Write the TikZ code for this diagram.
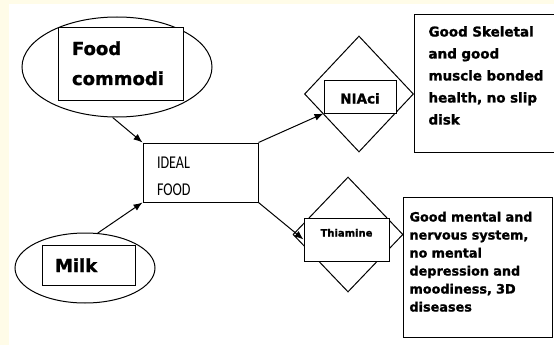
\documentclass[tikz,border=0pt]{standalone}
\usepackage{fontspec}
\setmainfont{DejaVu Sans}[BoldFeatures={FakeBold=1.3}]
\newfontfamily\idealfont[FakeStretch=0.78]{Carlito}
\usetikzlibrary{shapes,arrows,arrows.meta}
\definecolor{creambg}{RGB}{255,252,232}

\begin{document}
\begin{tikzpicture}[x=1pt,y=-1pt,line width=1pt,
oval/.style={ellipse,draw,inner sep=0pt},
rhomb/.style={diamond,draw,inner sep=0pt},
tagbox/.style={rectangle,draw,fill=white,inner ysep=0pt,align=left,font=\bfseries},
note/.style={rectangle,draw,anchor=north west,inner ysep=0pt,align=left},
arr/.style={-{Latex[length=9pt,width=7pt]}}
]
\useasboundingbox (0,0) rectangle (554,345);
\fill[creambg] (0,0) rectangle (554,345);
\fill[white] (9,4) rectangle (554,345);

% inputs
\node[oval,minimum width=190pt,minimum height=100pt] (food) at (117,67) {};
\node[tagbox,inner xsep=14pt,text width=97pt,text height=27pt,text depth=45pt,
  font=\bfseries\fontsize{18}{30}\selectfont] (foodbox) at (120.5,64) {Food\\commodi};
\node[oval,minimum width=140pt,minimum height=70pt] (milk) at (85,268) {};
\node[tagbox,inner xsep=13pt,text width=67pt,text height=27pt,text depth=13pt,
  font=\bfseries\fontsize{18}{22}\selectfont] (milkbox) at (88.5,265) {Milk};

\node[tagbox,inner xsep=14pt,text width=87pt,text height=25pt,text depth=34pt,
  font=\idealfont\fontsize{18}{27}\selectfont] (ideal) at (200.5,172.5) {IDEAL\\FOOD};

% nutrients
\node[rhomb,minimum width=109pt,minimum height=116pt] (diaN) at (359,94) {};
\node[tagbox,align=center,inner xsep=0pt,text width=72pt,text height=23.5pt,text depth=9.5pt,
  font=\bfseries\fontsize{13.5}{16}\selectfont] (niaci) at (360,96.5) {NIAci};
\node[rhomb,minimum width=110pt,minimum height=115pt] (diaT) at (348,234.5) {};
\node[tagbox,align=center,inner xsep=0pt,text width=85pt,text height=18.5pt,text depth=24.5pt,
  font=\bfseries\fontsize{10}{12}\selectfont] (thia) at (346.5,239.5) {Thiamine};

% effects
\node[note,inner xsep=14pt,text width=125pt,text height=22pt,text depth=116pt,
  font=\bfseries\fontsize{13.5}{22}\selectfont] (skel) at (414,14)
  {Good Skeletal\\and good\\muscle bonded\\health, no slip\\disk};
\node[note,inner xsep=6pt,text width=137pt,text height=24pt,text depth=116pt,
  font=\bfseries\fontsize{12.8}{18}\selectfont] (mental) at (403,197)
  {Good mental and\\nervous system,\\no mental\\depression and\\moodiness, 3D\\diseases};

\draw[arr] (food.-95) -- (ideal.north west);
\draw[arr] (milk.70) -- (ideal.south west);
\draw[arr] (ideal.north east) -- (niaci.south west);
\draw[arr] (ideal.south east) -- (thia.west);
\end{tikzpicture}
\end{document}
